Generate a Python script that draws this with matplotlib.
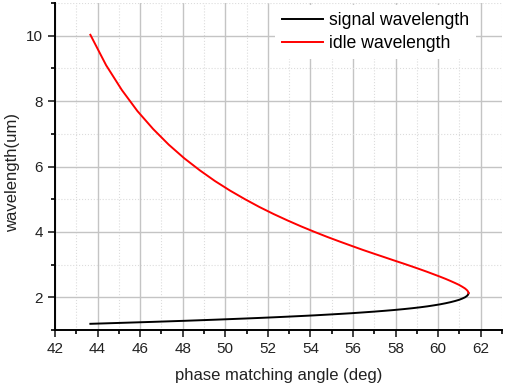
import matplotlib
matplotlib.use("Agg")
import matplotlib.pyplot as plt
from matplotlib.ticker import MultipleLocator

plt.rcParams['font.family'] = ['Liberation Sans', 'DejaVu Sans']

# phase matching angle (deg) and the two wavelengths (um)
angle = [43.66, 44.40, 45.14, 45.87, 46.61, 47.34, 48.07, 48.80, 49.51, 50.22,
         50.92, 51.60, 52.27, 52.93, 53.57, 54.19, 54.79, 55.38, 55.94, 56.47,
         56.99, 57.48, 57.94, 58.38, 58.78, 59.15, 59.49, 59.80, 60.09, 60.35,
         60.58, 60.79, 60.98, 61.13, 61.26, 61.35, 61.41, 61.43]
idle = [10.03, 9.099, 8.340, 7.698, 7.148, 6.671, 6.254, 5.886, 5.559, 5.266,
        5.003, 4.764, 4.548, 4.350, 4.168, 4.002, 3.848, 3.705, 3.573, 3.449,
        3.334, 3.227, 3.126, 3.031, 2.942, 2.858, 2.779, 2.703, 2.632, 2.565,
        2.501, 2.440, 2.382, 2.326, 2.273, 2.223, 2.174, 2.128]
signal = [1.190, 1.205, 1.220, 1.235, 1.250, 1.266, 1.282, 1.299, 1.316, 1.334,
          1.352, 1.370, 1.389, 1.409, 1.429, 1.449, 1.471, 1.493, 1.515, 1.539,
          1.563, 1.588, 1.613, 1.640, 1.667, 1.695, 1.724, 1.755, 1.786, 1.819,
          1.852, 1.887, 1.923, 1.961, 2.000, 2.041, 2.084, 2.128]

fig = plt.figure(figsize=(5.05, 3.86), dpi=100)
ax = fig.add_axes([0.109, 0.145, 0.885, 0.847])

ax.plot(angle, signal, color='black', lw=1.4, label='signal wavelength')
ax.plot(angle, idle, color='#ff0000', lw=1.4, label='idle wavelength')

ax.set_xlim(42, 63)
ax.set_ylim(1, 11)
ax.xaxis.set_major_locator(MultipleLocator(2))
ax.xaxis.set_minor_locator(MultipleLocator(1))
ax.yaxis.set_major_locator(MultipleLocator(2))
ax.yaxis.set_minor_locator(MultipleLocator(1))
ax.set_xticks(range(42, 63, 2))
ax.set_yticks(range(2, 11, 2))

ax.grid(which='major', color='#c4c4c4', lw=1.0, ls='-')
ax.grid(which='minor', color='#dcdcdc', lw=0.8, ls=':')
ax.set_axisbelow(True)

for s in ['top', 'right']:
    ax.spines[s].set_visible(False)
for s in ['left', 'bottom']:
    ax.spines[s].set_linewidth(1.4)

ax.tick_params(which='major', direction='out', length=5, width=1.2,
               labelsize=11, colors='#222222')
ax.tick_params(which='minor', direction='out', length=3, width=1.2)

ax.set_xlabel('phase matching angle (deg)', fontsize=12, color='#222222',
              labelpad=9)
ax.set_ylabel('wavelength(um)', fontsize=12, color='#222222')
ax.yaxis.set_label_coords(-0.078, 0.482)

leg = ax.legend(loc='upper right', bbox_to_anchor=(0.942, 0.994), fontsize=12.7,
                frameon=True, handlelength=2.3, handletextpad=0.35,
                borderaxespad=0.0, labelspacing=0.35, borderpad=0.4)
leg.get_frame().set_edgecolor('none')
leg.get_frame().set_facecolor('white')
leg.get_frame().set_alpha(1)
leg.get_frame().set_boxstyle('square', pad=0)

fig.savefig('out.png', dpi=100)
